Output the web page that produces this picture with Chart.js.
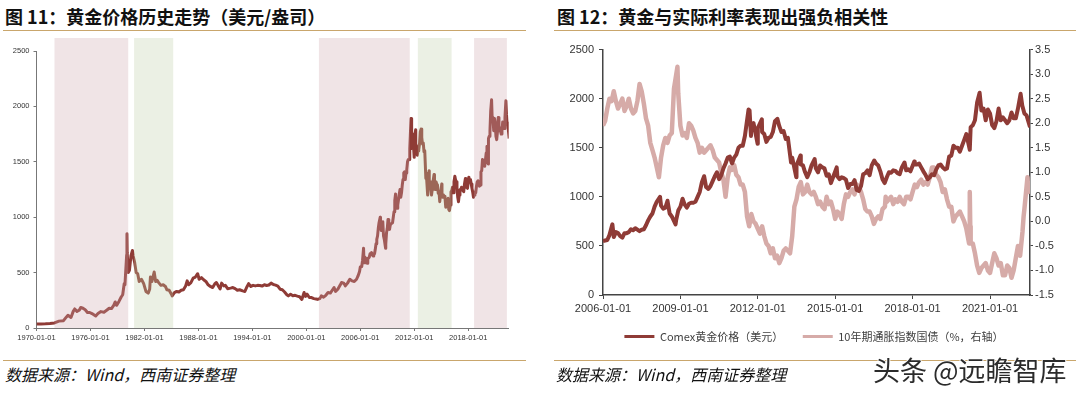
<!DOCTYPE html>
<html>
<head>
<meta charset="utf-8">
<script src="https://cdn.jsdelivr.net/npm/chart.js@4.4.1/dist/chart.umd.min.js"></script>
<style>
  html, body { margin: 0; padding: 0; background: #fff; }
  body { width: 1080px; height: 395px; position: relative; overflow: hidden; font-family: "Noto Sans CJK SC", "Noto Sans", sans-serif; }
  .title { position: absolute; top: 3px; font-size: 18px; font-weight: bold; color: #111; white-space: nowrap; }
  .rule { position: absolute; height: 0; border-top: 1.5px solid #c9a66c; }
  .source { position: absolute; top: 362px; font-size: 16px; font-style: italic; color: #111; white-space: nowrap; }
  .box { position: absolute; }
  .mark { position: absolute; left: 873px; top: 350px; font-size: 27px; color: #2b2b2b; white-space: nowrap;
          text-shadow: -1px 0 #fff, 1px 0 #fff, 0 -1px #fff, 0 1px #fff; }
</style>
</head>
<body>
<div class="title" style="left:5px">图 11：黄金价格历史走势（美元/盎司）</div>
<div class="title" style="left:557px">图 12：黄金与实际利率表现出强负相关性</div>
<div class="rule" style="left:3px; width:523px; top:30px"></div>
<div class="rule" style="left:554px; width:522px; top:30px"></div>

<div class="box" style="left:0; top:38px; width:520px; height:312px"><canvas id="histChart"></canvas></div>
<div class="box" style="left:540px; top:38px; width:548px; height:314px"><canvas id="tipsChart"></canvas></div>

<div class="rule" style="left:3px; width:523px; top:360px"></div>
<div class="rule" style="left:554px; width:522px; top:360px"></div>
<div class="source" style="left:5px">数据来源：Wind，西南证券整理</div>
<div class="source" style="left:556px">数据来源：Wind，西南证券整理</div>
<div class="mark">头条 @远瞻智库</div>

<script>
// gold price, USD/oz
var goldDates = [
  '1970-01','1970-07','1971-01','1971-07','1972-01','1972-07',
  '1973-01','1973-05','1973-07','1973-11',
  '1974-02','1974-04','1974-07','1974-10','1974-12',
  '1975-03','1975-06','1975-09','1975-12',
  '1976-03','1976-08','1976-11','1977-03','1977-07','1977-11',
  '1978-02','1978-05','1978-08','1978-10','1978-12',
  '1979-03','1979-06','1979-08','1979-10','1979-11','1979-12',
  '1980-01-10','1980-01-21','1980-02','1980-03-15','1980-05','1980-07','1980-09','1980-10','1980-12',
  '1981-02','1981-04','1981-06','1981-09','1981-12',
  '1982-03','1982-06','1982-08','1982-09','1982-11',
  '1983-02','1983-04','1983-06','1983-08','1983-11',
  '1984-02','1984-05','1984-07','1984-10',
  '1985-01','1985-02','1985-05','1985-08','1985-11',
  '1986-02','1986-05','1986-08','1986-10','1986-12',
  '1987-03','1987-06','1987-09','1987-12',
  '1988-02','1988-05','1988-08','1988-11',
  '1989-02','1989-05','1989-08','1989-11',
  '1990-01','1990-04','1990-06','1990-08','1990-11',
  '1991-01','1991-04','1991-08','1991-11',
  '1992-02','1992-05','1992-08','1992-12',
  '1993-03','1993-06','1993-08','1993-11',
  '1994-02','1994-05','1994-08','1994-11',
  '1995-02','1995-05','1995-08','1995-11',
  '1996-02','1996-05','1996-08','1996-11',
  '1997-02','1997-05','1997-08','1997-11',
  '1998-01','1998-04','1998-07','1998-10',
  '1999-01','1999-04','1999-07','1999-10','1999-12',
  '2000-02','2000-05','2000-08','2000-11',
  '2001-02','2001-04','2001-07','2001-09','2001-12',
  '2002-03','2002-06','2002-09','2002-12',
  '2003-02','2003-04','2003-07','2003-10','2003-12',
  '2004-03','2004-05','2004-08','2004-11',
  '2005-02','2005-05','2005-08','2005-10','2005-12',
  '2006-01','2006-02','2006-03','2006-04','2006-05-12','2006-06','2006-07','2006-08','2006-09','2006-10','2006-11','2006-12',
  '2007-01','2007-02','2007-03','2007-04','2007-05','2007-06','2007-07','2007-08','2007-09','2007-10','2007-11','2007-12',
  '2008-01','2008-02','2008-03-17','2008-04','2008-05','2008-06','2008-07','2008-08','2008-09','2008-10-24','2008-11','2008-12',
  '2009-01','2009-02','2009-03','2009-04','2009-05','2009-06','2009-07','2009-08','2009-09','2009-10','2009-11','2009-12-02','2009-12-30',
  '2010-01','2010-02','2010-03','2010-04','2010-05','2010-06','2010-07','2010-08','2010-09','2010-10','2010-11','2010-12',
  '2011-01','2011-02','2011-03','2011-04','2011-05','2011-06','2011-07','2011-08-22','2011-09-06','2011-09-26','2011-10','2011-11','2011-12-29',
  '2012-01','2012-02-28','2012-03','2012-04','2012-05','2012-06','2012-07','2012-08','2012-09','2012-10-04','2012-11','2012-12',
  '2013-01','2013-02','2013-03','2013-04-15','2013-05','2013-06-28','2013-07','2013-08-27','2013-09','2013-10','2013-11','2013-12',
  '2014-01','2014-02','2014-03-14','2014-04','2014-05','2014-06','2014-07','2014-08','2014-09','2014-10','2014-11','2014-12',
  '2015-01-22','2015-02','2015-03','2015-04','2015-05','2015-06','2015-07','2015-08','2015-09','2015-10','2015-11','2015-12',
  '2016-01','2016-02','2016-03','2016-04','2016-05','2016-06','2016-07-06','2016-08','2016-09','2016-10','2016-11','2016-12',
  '2017-01','2017-02','2017-03','2017-04','2017-05','2017-06','2017-07','2017-08','2017-09-08','2017-10','2017-11','2017-12',
  '2018-01-25','2018-02','2018-03','2018-04','2018-05','2018-06','2018-07','2018-08','2018-09','2018-10','2018-11','2018-12',
  '2019-01','2019-02','2019-03','2019-04','2019-05','2019-06','2019-07','2019-08','2019-09','2019-10','2019-11','2019-12',
  '2020-01','2020-02','2020-03-19','2020-04','2020-05','2020-06','2020-07','2020-08-06','2020-09','2020-10','2020-11','2020-12',
  '2021-01','2021-02','2021-03','2021-04','2021-05','2021-06','2021-07','2021-08','2021-09','2021-10','2021-11','2021-12',
  '2022-01','2022-02','2022-03-08','2022-04','2022-05','2022-06','2022-07-20'
];
var goldValues = [
  35,36,38,41,46,62,
  66,100,115,95,
  150,172,150,160,185,
  178,165,140,140,
  130,108,130,148,143,162,
  178,175,205,235,205,
  240,280,300,400,390,510,
  660,850,680,500,520,650,700,650,590,
  500,490,420,440,400,
  330,315,350,460,420,
  505,420,430,410,385,
  390,375,345,340,
  305,290,320,330,325,
  340,345,380,425,390,
  410,450,460,490,
  440,455,435,420,
  390,375,365,400,
  410,375,352,405,380,
  385,355,360,365,
  355,340,345,335,
  330,375,400,375,
  385,380,385,384,
  378,390,384,388,
  405,392,387,378,
  350,345,325,300,
  290,305,292,295,
  288,282,258,320,285,
  305,275,275,265,
  262,258,265,290,278,
  295,320,315,345,
  365,330,350,385,410,
  405,380,405,440,
  425,420,440,470,510,
  550,555,560,610,720,590,640,630,600,585,630,630,
  640,670,660,680,665,650,665,670,710,760,800,830,
  900,950,1000,910,880,890,960,830,800,720,760,860,
  900,980,920,890,930,940,940,950,1000,1050,1150,1210,1100,
  1100,1080,1110,1160,1210,1250,1180,1220,1290,1340,1400,1410,
  1340,1400,1430,1500,1520,1520,1620,1890,1880,1620,1720,1750,1540,
  1700,1790,1660,1640,1560,1600,1610,1660,1770,1795,1720,1660,
  1670,1590,1600,1350,1400,1200,1320,1420,1330,1320,1250,1200,
  1250,1320,1385,1290,1250,1320,1300,1290,1215,1230,1140,1200,
  1300,1210,1180,1200,1190,1175,1090,1130,1130,1170,1070,1060,
  1110,1230,1240,1270,1220,1320,1370,1340,1320,1260,1180,1140,
  1200,1250,1245,1270,1265,1240,1230,1300,1350,1270,1280,1260,
  1360,1330,1330,1340,1300,1260,1225,1180,1200,1230,1220,1280,
  1320,1330,1300,1280,1290,1410,1420,1520,1500,1500,1460,1520,
  1580,1640,1480,1710,1730,1780,1960,2060,1880,1900,1780,1890,
  1850,1730,1700,1770,1900,1780,1810,1780,1750,1780,1860,1800,
  1800,1900,2050,1930,1850,1830,1710
];

// 10y TIPS yield, % (right axis)
var tipsDates = [
  '2006-01','2006-02','2006-03','2006-04','2006-05','2006-06','2006-07','2006-08','2006-09','2006-10','2006-11','2006-12',
  '2007-01','2007-02','2007-03','2007-04','2007-05','2007-06','2007-07','2007-08','2007-09','2007-10','2007-11','2007-12',
  '2008-01','2008-02','2008-03','2008-04','2008-05','2008-06','2008-07','2008-08','2008-09','2008-10','2008-11-20','2008-12',
  '2009-01','2009-02','2009-03','2009-04','2009-05','2009-06','2009-07','2009-08','2009-09','2009-10','2009-11','2009-12',
  '2010-01','2010-02','2010-03','2010-04','2010-05','2010-06','2010-07','2010-08','2010-09','2010-10','2010-11','2010-12',
  '2011-01','2011-02','2011-03','2011-04','2011-05','2011-06','2011-07','2011-08','2011-09','2011-10','2011-11','2011-12',
  '2012-01','2012-02','2012-03','2012-04','2012-05','2012-06','2012-07','2012-08','2012-09','2012-10','2012-11','2012-12',
  '2013-01','2013-02','2013-03','2013-04','2013-05','2013-06','2013-07','2013-08','2013-09','2013-10','2013-11','2013-12',
  '2014-01','2014-02','2014-03','2014-04','2014-05','2014-06','2014-07','2014-08','2014-09','2014-10','2014-11','2014-12',
  '2015-01','2015-02','2015-03','2015-04','2015-05','2015-06','2015-07','2015-08','2015-09','2015-10','2015-11','2015-12',
  '2016-01','2016-02','2016-03','2016-04','2016-05','2016-06','2016-07','2016-08','2016-09','2016-10','2016-11','2016-12-05','2016-12-15',
  '2017-01','2017-02','2017-03','2017-04','2017-05','2017-06','2017-07','2017-08','2017-09','2017-10','2017-11','2017-12',
  '2018-01','2018-02','2018-03','2018-04','2018-05','2018-06','2018-07','2018-08','2018-09','2018-10','2018-11','2018-12',
  '2019-01','2019-02','2019-03','2019-04','2019-05','2019-06','2019-07','2019-08','2019-09','2019-10','2019-11','2019-12',
  '2020-01','2020-02','2020-03-09','2020-03-19','2020-03-26','2020-04','2020-05','2020-06','2020-07','2020-08','2020-09','2020-10','2020-11','2020-12',
  '2021-01','2021-02','2021-03','2021-04','2021-05','2021-06','2021-07','2021-08','2021-09','2021-10','2021-11','2021-12',
  '2022-01','2022-02','2022-03','2022-04-05','2022-04-20','2022-05','2022-06-14','2022-06-28','2022-07-20'
];
var tipsValues = [
  1.95,2.05,2.3,2.5,2.45,2.65,2.45,2.3,2.4,2.5,2.25,2.35,
  2.5,2.3,2.2,2.25,2.45,2.8,2.65,2.4,2.1,1.95,1.6,1.45,
  1.3,1.1,0.9,1.3,1.55,1.7,1.6,1.75,1.8,2.7,3.15,2.6,
  1.95,1.75,1.8,1.7,2.0,1.95,1.85,1.7,1.6,1.4,1.5,1.4,
  1.45,1.5,1.55,1.45,1.3,1.25,1.2,1.0,0.85,0.5,0.9,1.1,
  1.05,1.15,0.95,0.9,0.75,0.75,0.6,0.1,-0.1,0.15,0.0,-0.05,
  -0.15,-0.25,-0.1,-0.3,-0.45,-0.5,-0.65,-0.55,-0.75,-0.7,-0.85,-0.75,
  -0.6,-0.55,-0.6,-0.65,-0.3,0.3,0.45,0.7,0.8,0.55,0.6,0.75,
  0.6,0.55,0.6,0.5,0.35,0.4,0.3,0.25,0.5,0.35,0.4,0.25,
  0.05,0.2,0.15,0.05,0.35,0.55,0.5,0.6,0.65,0.55,0.75,0.7,
  0.6,0.45,0.25,0.2,0.2,0.1,-0.05,0.05,0.1,0.05,0.25,0.3,0.5,
  0.4,0.45,0.5,0.35,0.45,0.4,0.5,0.4,0.35,0.5,0.5,0.45,
  0.6,0.75,0.7,0.8,0.85,0.75,0.8,0.75,0.9,1.1,1.1,0.95,
  0.9,0.8,0.6,0.65,0.45,0.3,0.3,0.0,0.1,0.15,0.2,0.1,
  0.0,-0.15,-0.45,0.6,-0.1,-0.45,-0.45,-0.65,-0.9,-1.05,-0.95,-0.9,-0.85,-1.0,
  -1.05,-0.85,-0.65,-0.75,-0.9,-0.85,-1.1,-1.1,-0.9,-0.95,-1.15,-1.0,
  -0.75,-0.5,-0.7,-0.2,0.1,0.25,0.9,0.6,0.65
];

// x tick years of each chart
var histTickYears = [1970, 1976, 1982, 1988, 1994, 2000, 2006, 2012, 2018];
var tipsTickYears = [2006, 2009, 2012, 2015, 2018, 2021];

// shaded periods on the long-run chart (years)
var bullPeriods = [[1972.0, 1980.2], [2001.4, 2011.5], [2018.65, 2022.3]];
var bearPeriods = [[1980.85, 1985.2], [2012.4, 2016.15]];

var seriesNames = ['Comex黄金价格（美元）', '10年期通胀指数国债（%，右轴）'];

function toYear(s) {
  var p = s.split('-');
  return +p[0] + (p[1] - 1) / 12 + ((p[2] || 1) - 1) / 365;
}
function toPoints(dates, values, from) {
  var pts = [];
  dates.forEach(function (d, i) {
    var x = toYear(d);
    if (x >= from) pts.push({ x: x, y: values[i] });
  });
  return pts;
}
function fixedTicks(years) {
  return function (scale) {
    scale.ticks = years.map(function (v) { return { value: v }; });
  };
}
function dateLabel(v) { return v + '-01-01'; }
function plain(v) { return String(v); }

var DARK = '#8f3b36';
var LIGHT = '#d6aba8';
var AXIS = '#777';
var TXT = '#333';

var shadePlugin = {
  id: 'shade',
  afterDatasetsDraw: function (chart) {
    var x = chart.scales.x, a = chart.chartArea, ctx = chart.ctx;
    ctx.save();
    function fill(list, color) {
      ctx.fillStyle = color;
      list.forEach(function (p) {
        var l = x.getPixelForValue(p[0]), r = x.getPixelForValue(p[1]);
        ctx.fillRect(l, a.top - 13, r - l, a.bottom - a.top + 13);
      });
    }
    fill(bullPeriods, 'rgba(205,165,172,0.3)');
    fill(bearPeriods, 'rgba(188,206,165,0.3)');
    ctx.restore();
  }
};

new Chart(document.getElementById('histChart'), {
  type: 'line',
  data: {
    datasets: [{
      data: toPoints(goldDates, goldValues, 1970),
      borderColor: DARK, borderWidth: 3, pointRadius: 0, tension: 0,
      borderJoinStyle: 'round'
    }]
  },
  options: {
    responsive: true, maintainAspectRatio: false, animation: false,
    layout: { padding: { top: 13, right: 11.3, left: 0, bottom: 0 } },
    plugins: { legend: { display: false }, tooltip: { enabled: false } },
    scales: {
      x: {
        type: 'linear', min: 1970, max: 2022.5,
        afterBuildTicks: fixedTicks(histTickYears),
        afterFit: function (s) { s.height = 22; },
        grid: { drawOnChartArea: false, tickLength: 3, color: AXIS },
        border: { color: AXIS },
        ticks: {
          maxRotation: 0, autoSkip: false, padding: 2,
          color: TXT, font: { size: 7.5, family: 'Liberation Sans' },
          callback: dateLabel
        }
      },
      y: {
        min: 0, max: 2500,
        afterFit: function (s) { s.width = 36.5; },
        grid: { drawOnChartArea: false, tickLength: 3, color: AXIS },
        border: { color: AXIS },
        ticks: { stepSize: 500, color: TXT, font: { size: 7.5, family: 'Liberation Sans' }, padding: 4, callback: plain }
      }
    }
  },
  plugins: [shadePlugin]
});

new Chart(document.getElementById('tipsChart'), {
  type: 'line',
  data: {
    datasets: [{
      label: seriesNames[0] + '\u3000',
      data: toPoints(goldDates, goldValues, 2006),
      yAxisID: 'y', borderColor: DARK, backgroundColor: DARK,
      borderWidth: 4, pointRadius: 0, tension: 0, borderJoinStyle: 'round', order: 0
    }, {
      label: seriesNames[1],
      data: toPoints(tipsDates, tipsValues, 2006),
      yAxisID: 'y1', borderColor: LIGHT, backgroundColor: LIGHT,
      borderWidth: 4.5, pointRadius: 0, tension: 0, borderJoinStyle: 'round', order: 1
    }]
  },
  options: {
    responsive: true, maintainAspectRatio: false, animation: false,
    layout: { padding: { top: 10, right: 0, left: 0, bottom: 0 } },
    plugins: {
      tooltip: { enabled: false },
      legend: {
        position: 'bottom',
        labels: {
          boxWidth: 30, boxHeight: 3, padding: 14, color: '#404040',
          font: { size: 11, family: 'Noto Sans CJK SC' },
          generateLabels: function (chart) {
            return Chart.defaults.plugins.legend.labels.generateLabels(chart).map(function (l) {
              l.lineWidth = 0;
              l.fillStyle = l.strokeStyle;
              return l;
            });
          }
        }
      }
    },
    scales: {
      x: {
        type: 'linear', min: 2006, max: 2022.55,
        afterBuildTicks: fixedTicks(tipsTickYears),
        afterFit: function (s) { s.height = 22; },
        grid: { drawOnChartArea: false, tickLength: 4, color: '#444' },
        border: { color: '#444', width: 1.5 },
        ticks: {
          maxRotation: 0, autoSkip: false,
          color: TXT, font: { size: 11, family: 'Liberation Sans' },
          callback: dateLabel
        }
      },
      y: {
        position: 'left', min: 0, max: 2500,
        afterFit: function (s) { s.width = 63; },
        grid: { drawOnChartArea: false, tickLength: 4, color: '#444' },
        border: { color: '#444', width: 1.5 },
        ticks: { stepSize: 500, color: TXT, font: { size: 11, family: 'Liberation Sans' }, padding: 5, callback: plain }
      },
      y1: {
        position: 'right', min: -1.5, max: 3.5,
        afterFit: function (s) { s.width = 58; },
        grid: { drawOnChartArea: false, tickLength: 3, color: '#444' },
        border: { color: '#444', width: 1.5 },
        ticks: {
          stepSize: 0.5, color: TXT, font: { size: 11, family: 'Liberation Sans' }, padding: 2,
          callback: function (v) { return v.toFixed(1); }
        }
      }
    }
  }
});
</script>
</body>
</html>
